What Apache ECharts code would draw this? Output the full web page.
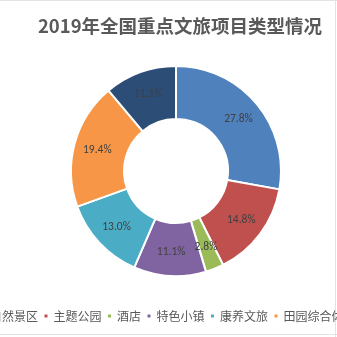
<!DOCTYPE html>
<html><head><meta charset="utf-8">
<style>html,body{margin:0;padding:0;background:#fff}#c{width:337px;height:337px}</style>
<script src="https://cdn.jsdelivr.net/npm/echarts@6/dist/echarts.min.js"></script>
</head><body><div id="c"></div>
<script>
var titleText = '2019年全国重点文旅项目类型情况';
var categories = ['自然景区','主题公园','酒店','特色小镇','康养文旅','田园综合体','其他'];
var values = [27.8, 14.8, 2.8, 11.1, 13.0, 19.4, 11.1];
var colors = ['#4F81BD','#C0504D','#9BBB59','#8064A2','#4BACC6','#F79646','#2C4D75'];

var chart = echarts.init(document.getElementById('c'), null, {renderer:'canvas'});
chart.setOption({
  animation:false,
  backgroundColor:'#fff',
  color: colors,
  title:{text:titleText,left:175,top:12,textAlign:'center',
    textStyle:{fontSize:18.5,fontWeight:'bold',color:'#595959',fontFamily:'"Noto Sans CJK SC", sans-serif'}},
  legend:{left:-21,top:310,orient:'horizontal',width:1000,icon:'rect',itemWidth:5,itemHeight:5,itemGap:4.5,
    padding:0,
    textStyle:{fontSize:12,color:'#595959',fontFamily:'"Noto Sans CJK SC", sans-serif'},
    data:categories},
  graphic:[
    {type:'line',shape:{x1:0,y1:0.5,x2:337,y2:0.5},style:{stroke:'#e3e3e3',lineWidth:1},silent:true},
    {type:'line',shape:{x1:335.5,y1:0,x2:335.5,y2:337},style:{stroke:'#e3e3e3',lineWidth:1},silent:true},
    {type:'line',shape:{x1:0,y1:334.5,x2:337,y2:334.5},style:{stroke:'#e3e3e3',lineWidth:1},silent:true}
  ],
  series:[{
    type:'pie',
    center:[176,171],
    radius:[52,105],
    startAngle:90,
    clockwise:true,
    avoidLabelOverlap:false,
    itemStyle:{borderColor:'#fff',borderWidth:2},
    label:{show:true,position:'inside',fontSize:11.5,color:'#404040',
      fontFamily:'Carlito, "Liberation Sans", sans-serif',
      formatter:function(p){return p.value.toFixed(1)+'%';}},
    labelLine:{show:false},
    emphasis:{disabled:true},
    data:categories.map(function(n,i){return {name:n,value:values[i]};})
  }]
});
</script></body></html>
